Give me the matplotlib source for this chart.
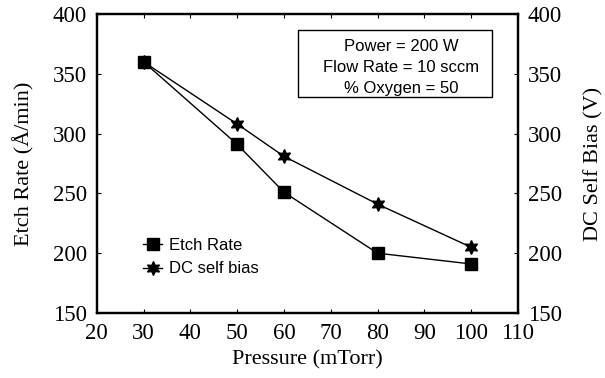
import matplotlib
matplotlib.use("Agg")
import matplotlib.pyplot as plt
from matplotlib.patches import Rectangle

pressure = [30, 50, 60, 80, 100]
etch_rate = [360, 291, 251, 200, 191]
dc_bias = [360, 308, 281, 241, 205]
x_ticks = [20, 30, 40, 50, 60, 70, 80, 90, 100, 110]
y_ticks = [150, 200, 250, 300, 350, 400]

serif = ["Liberation Serif", "DejaVu Serif"]
sans = ["Liberation Sans", "DejaVu Sans"]

fig = plt.figure(figsize=(6.05, 3.78), dpi=100)
ax = fig.add_axes([0.160, 0.172, 0.696, 0.791])
ax2 = ax.twinx()

l1, = ax.plot(pressure, etch_rate, color="black", lw=1.0, marker="s", ms=9,
              label="Etch Rate")
l2, = ax2.plot(pressure, dc_bias, color="black", lw=1.0, marker=(6, 1, 0), ms=10,
               label="DC self bias")

for a in (ax, ax2):
    a.set_xlim(20, 110)
    a.set_ylim(150, 400)
    a.set_yticks(y_ticks)
    for s in a.spines.values():
        s.set_linewidth(1.6)
ax.set_xticks(x_ticks)
ax.tick_params(axis="both", direction="in", length=3, width=0.8, pad=7,
               labelsize=16.5, top=True)
ax2.tick_params(axis="y", direction="in", length=3, width=0.8, pad=7, labelsize=16.5)
for lab in ax.get_xticklabels() + ax.get_yticklabels() + ax2.get_yticklabels():
    lab.set_family(serif)

ax.set_xlabel("Pressure (mTorr)", fontsize=16, family=serif, labelpad=5)
ax.set_ylabel("Etch Rate (Å/min)", fontsize=16, family=serif, labelpad=13)
ax2.set_ylabel("DC Self Bias (V)", fontsize=16, family=serif, labelpad=16)

leg = ax.legend(handles=[l1, l2], loc="lower left", bbox_to_anchor=(0.095, 0.10),
                frameon=False, prop={"family": sans, "size": 12},
                handlelength=1.1, handletextpad=0.45, labelspacing=0.5,
                borderaxespad=0)

ax.add_patch(Rectangle((0.477, 0.722), 0.461, 0.224, transform=ax.transAxes,
                       fc="white", ec="black", lw=1.0, zorder=3))
ax.text(0.722, 0.822, "Power = 200 W\nFlow Rate = 10 sccm\n% Oxygen = 50",
        transform=ax.transAxes, ha="center", va="center", fontsize=12,
        family=sans, linespacing=1.5, zorder=4)

fig.savefig("out.png", dpi=100)
